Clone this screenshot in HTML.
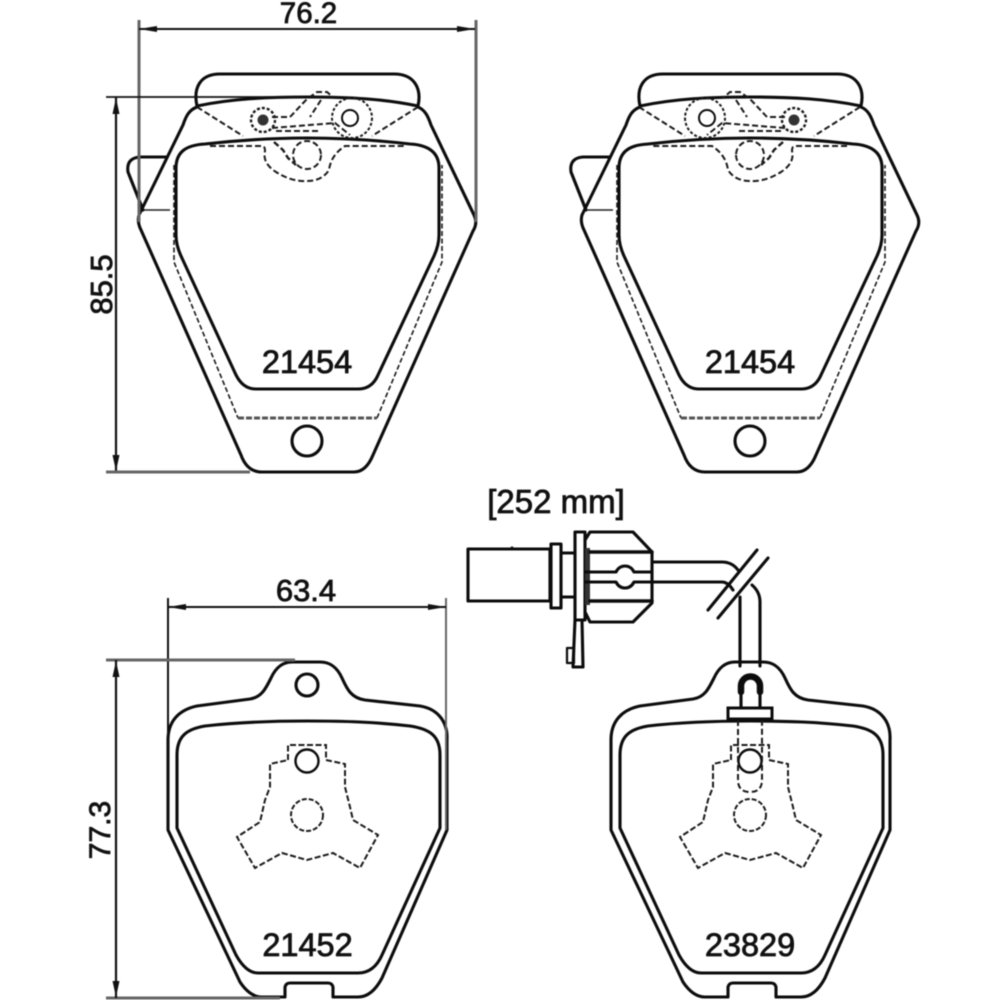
<!DOCTYPE html>
<html><head><meta charset="utf-8"><style>
html,body{margin:0;padding:0;background:#fff;width:1000px;height:1000px;overflow:hidden}
svg{display:block;filter:blur(.4px)}
text{font-family:"Liberation Sans",Arial,sans-serif;fill:#111;stroke:#111;stroke-width:.8}
.s{fill:none;stroke:#0c0c0c;stroke-width:3.1;stroke-linejoin:round;stroke-linecap:round}
.d{fill:none;stroke:#1a1a1a;stroke-width:2;stroke-dasharray:6 3}
.t{fill:none;stroke:#222;stroke-width:1.5}
.g{fill:none;stroke:#666;stroke-width:3}
</style></head><body>
<svg width="1000" height="1000" viewBox="0 0 1000 1000" xmlns="http://www.w3.org/2000/svg">
<defs>
<g id="outerA">
<path class="s" d="M197 106C193 88 200 74 220 74H394C414 74 422 88 418 106C385 99 350 97 307 97C265 97 230 99 197 106Z"/>
<path class="s" d="M197 107C189 110 186 116 183 125L139 215Q137 222 141 230L241 455Q247 472 262 472H354Q366 472 373 455L473 231Q478 223 474 215L431 125C428 116 425 110 418 107"/>
<path class="s" d="M167 157H140Q126 158 128 172L143 210"/>
<path class="t" d="M144 210H170" stroke="#666"/>
<path class="s" d="M176 168C176 152 186 145 205 144C240 140 270 138 307 138C345 138 375 140 410 144C428 145 439 152 439 168V235Q439 245 434 256L378 375Q372 389 358 389H256Q243 389 236 375L181 256Q176 245 176 235Z"/>
<path class="d" style="stroke-width:1.6;stroke-dasharray:5 2.5" d="M174 165V262L238 418M377 418L442 262V165"/>
<path class="d" style="stroke:#555;stroke-width:3;stroke-dasharray:6 2" d="M238 418H377"/>
<circle class="s" cx="307" cy="441" r="15"/>
</g>
<g id="detailA">
<path class="d" d="M197 107L243 136M418 107L372 136M210 146H262Q265 146 265 151Q262 163 276 172Q292 182 307 181Q322 181 329 170Q331 155 345 146H405"/>
<circle class="d" cx="307" cy="155" r="14"/>
<circle class="s" cx="350" cy="118" r="8" style="stroke-width:2"/>
<circle class="d" cx="352" cy="118" r="20" style="stroke-dasharray:3 2"/>
<circle class="d" cx="263" cy="120" r="12" style="stroke-dasharray:3 2;stroke-width:2.4"/>
<circle cx="263" cy="120" r="5.500" fill="#333"/>
<path class="d" d="M272 117H290L307 99L317 92H327L334 98M290 117L305 101M321 100L310 117M272 128L335 123L350 135M276 131H318"/>
<path class="d" d="M274 142L283 150L288 158L296 165" style="stroke-width:2.4"/>
</g>
<g id="padB">
<path class="s" d="M168 830V740C168 722 178 710 197 706L250 699C262 697 266 688 271 678C276 667 283 662 292 662H320C330 662 337 667 342 678C347 689 351 698 365 700L420 706C438 709 448 722 447 740V830L382 978Q372 997 358 997H333V987Q332 983 328 983H290Q286 983 285 987V997H262Q250 997 240 982Z"/>
<path class="s" d="M177 828V755C177 736 187 729 205 726C240 722 270 721 307 721C345 721 375 722 410 726C430 729 440 736 440 755V828L382 955Q374 973 358 973H258Q246 973 236 955Z"/>
<path class="d" d="M288 760V745H326V760L345 764V787L350 807L353 820L378 835L360 868L333 853L307 860L282 853L255 868L237 837L260 822L265 800L270 787V764Z" style="stroke-dasharray:6 2.5"/>
<circle class="d" cx="307" cy="815" r="16" style="stroke-dasharray:5 2"/>
<circle class="s" cx="307" cy="761" r="11.500" style="stroke-width:2.4"/>
</g>
</defs>

<use href="#outerA"/>
<use href="#detailA"/>
<use href="#outerA" x="443"/>
<g transform="translate(1057 0) scale(-1 1)"><use href="#detailA"/></g>
<use href="#padB"/>
<use href="#padB" x="443"/>
<circle class="s" cx="307" cy="685" r="11"/>

<path class="g" d="M139 20V222M476 20V222"/>
<path class="t" style="stroke:#111;stroke-width:2" d="M139 29H475"/>
<path d="M139 29l18-3v6zM475 29l-18-3v6z" fill="#111"/>
<path class="t" style="stroke:#111;stroke-width:1.8" d="M106 97H340"/>
<path class="t" style="stroke:#111;stroke-width:2.2" d="M116 97V472"/>
<path class="g" d="M106 472H250"/>
<path d="M116 98l-3.500 16h7zM116 471l-3.500-16h7z" fill="#111"/>

<path class="t" style="stroke:#111;stroke-width:2" d="M168 598V830"/>
<path class="g" style="stroke-width:2" d="M446 598V830"/>
<path class="t" style="stroke:#111;stroke-width:2" d="M168 607H446"/>
<path d="M168 607l18-3v6zM446 607l-18-3v6z" fill="#111"/>
<path class="g" d="M106 660H295M106 998H280"/>
<path class="t" style="stroke:#111;stroke-width:2.2" d="M116 660V998"/>
<path d="M116 661l-3.500 16h7zM116 997l-3.500-16h7z" fill="#111"/>

<text x="308.500" y="23" font-size="29.500" text-anchor="middle">76.2</text>
<text transform="translate(112 284.500) rotate(-90)" font-size="31" text-anchor="middle">85.5</text>
<text x="306" y="601" font-size="31" text-anchor="middle">63.4</text>
<text transform="translate(110 830) rotate(-90)" font-size="30" text-anchor="middle">77.3</text>
<text x="556" y="513" font-size="33" text-anchor="middle">[252 mm]</text>
<text x="307" y="373" font-size="32.500" text-anchor="middle">21454</text>
<text x="750" y="373" font-size="32.500" text-anchor="middle">21454</text>
<text x="307.500" y="956" font-size="32.500" text-anchor="middle">21452</text>
<text x="750" y="956" font-size="32.500" text-anchor="middle">23829</text>

<rect class="s" x="468" y="549" width="82" height="52"/>
<path class="s" d="M510 549l2-2 2 2" style="stroke-width:1.500"/>
<rect class="s" x="551" y="544" width="10" height="64"/>
<path class="s" d="M561 553H575M561 597H575"/>
<rect class="s" x="575" y="532" width="10" height="88"/>
<rect x="585" y="548" width="5" height="57" fill="#333"/>
<path class="s" d="M585 540L590 532H633L652 552V603L633 622H590L585 612"/>
<path class="s" style="stroke-width:3.500" d="M590 552H652M590 601H652"/>
<path class="s" d="M586 572H616Q619 566 625 566Q631 566 634 572H651M586 582H616Q619 588 625 588Q631 588 634 582H651"/>
<path class="s" d="M652 562H722Q732 562 738 570M652 582H722Q728 582 733 590"/>
<path class="s" d="M708 610L757 550M718 618L768 558"/>
<path class="s" d="M740 597V666M752 585Q760 592 760 602V666"/>
<path class="s" d="M575 620L573 667H583L582 620"/>
<rect class="s" x="567" y="648" width="7" height="15" style="stroke-width:2.200"/>
<path class="s" style="stroke-width:6.500" d="M741 692V686A9.500 9.500 0 0 1 760 686V692"/>
<path class="s" d="M741 690V708M760 690V708"/>
<rect x="728" y="708" width="44" height="11" fill="#fff" stroke="#0c0c0c" stroke-width="3"/>
<path class="d" d="M738 720V780Q738 792 750 792Q762 792 762 780V720"/>
</svg>
</body></html>
